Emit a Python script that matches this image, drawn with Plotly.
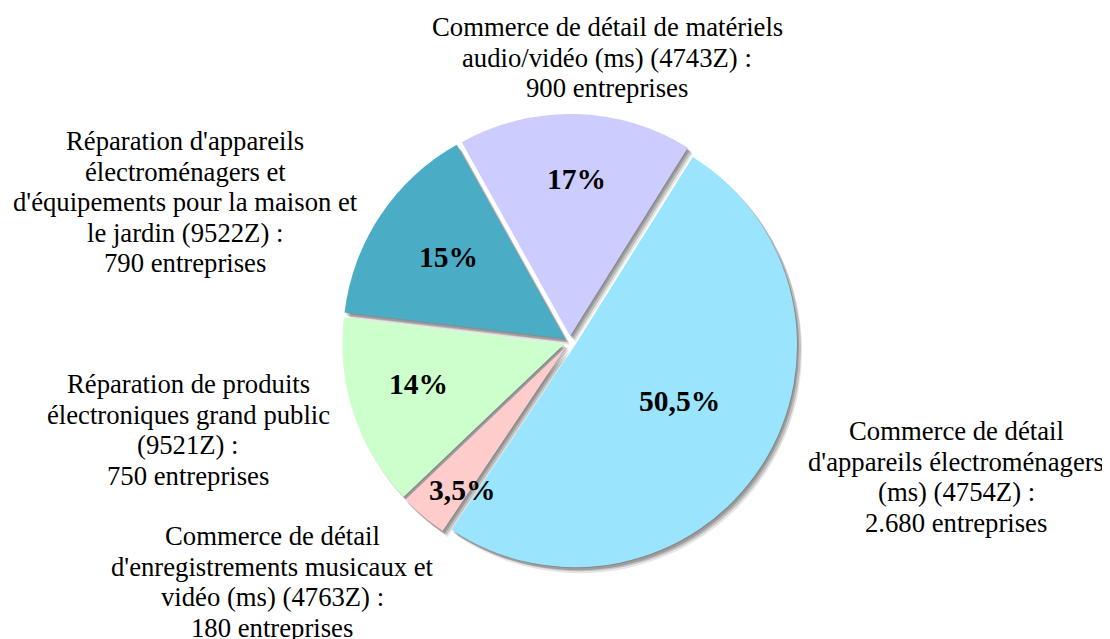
import plotly.graph_objects as go

# ---- data ----
categories = [
    "Commerce de détail d'appareils électroménagers (ms) (4754Z)",
    "Commerce de détail d'enregistrements musicaux et vidéo (ms) (4763Z)",
    "Réparation de produits électroniques grand public (9521Z)",
    "Réparation d'appareils électroménagers et d'équipements pour la maison et le jardin (9522Z)",
    "Commerce de détail de matériels audio/vidéo (ms) (4743Z)",
]
shares = [50.5, 3.5, 14, 15, 17]
enterprises = [2680, 180, 750, 790, 900]
pct_text = ["50,5%", "3,5%", "14%", "15%", "17%"]
label_lines = [
    ["Commerce de détail", "d'appareils électroménagers", "(ms) (4754Z) :", "2.680 entreprises"],
    ["Commerce de détail", "d'enregistrements musicaux et", "vidéo (ms) (4763Z) :", "180 entreprises"],
    ["Réparation de produits", "électroniques grand public", "(9521Z) :", "750 entreprises"],
    ["Réparation d'appareils", "électroménagers et", "d'équipements pour la maison et", "le jardin (9522Z) :", "790 entreprises"],
    ["Commerce de détail de matériels", "audio/vidéo (ms) (4743Z) :", "900 entreprises"],
]
colors = ["#9AE5FD", "#FFCCCC", "#CCFFCC", "#4BACC6", "#CCCCFF"]

# ---- layout / style ----
W, H = 1110, 639
OFF = 8                    # page body margin compensation (px)
CX, CY = 570, 342          # pie centre as seen on screen (px)
R = 222                    # pie radius (px)
PULL_PX = 6
pull = PULL_PX / R
half = R * (1 + pull)
FONT = "Liberation Serif, Times New Roman, serif"

def px(x):
    return (x - OFF) / W

def py(y):
    return 1 - (y - OFF) / H

def dom(dx=0, dy=0):
    return dict(
        x=[px(CX + dx - half), px(CX + dx + half)],
        y=[py(CY + dy + half), py(CY + dy - half)],
    )

fig = go.Figure()

# soft shadow layers
for (dx, dy, a) in [(5, 6, 0.10), (4, 4, 0.16), (2, 3, 0.18), (1, 1, 0.12)]:
    fig.add_trace(go.Pie(
        labels=categories, values=shares, sort=False, direction="clockwise",
        rotation=32, pull=pull, domain=dom(dx, dy),
        marker=dict(colors=[f"rgba(0,0,0,{a})"] * len(shares), line=dict(width=0)),
        textinfo="none", hoverinfo="skip", showlegend=False,
    ))

fig.add_trace(go.Pie(
    labels=categories, values=shares, sort=False, direction="clockwise",
    rotation=32, pull=pull, domain=dom(),
    marker=dict(colors=colors, line=dict(width=0)),
    textinfo="none", customdata=enterprises,
    hovertemplate="%{label}<br>%{customdata} entreprises<extra></extra>",
    showlegend=False,
))

annotations = []
# percentage labels (screen px positions)
pct_pos = [(679, 401), (462, 490), (418, 384), (448, 257), (576, 179)]
for t, (x, y) in zip(pct_text, pct_pos):
    annotations.append(dict(
        x=px(x), y=py(y), xref="paper", yref="paper", text=t, showarrow=False,
        xanchor="center", yanchor="middle",
        font=dict(family=FONT, size=29.5, color="black", weight="bold"),
    ))

# category labels, one annotation per line
label_pos = [(956, 431), (272, 536), (188, 384), (185, 141), (607, 27)]
LINE = 30.6
for lines, (x, y0) in zip(label_lines, label_pos):
    for k, ln in enumerate(lines):
        annotations.append(dict(
            x=px(x), y=py(y0 + k * LINE), xref="paper", yref="paper",
            text=ln, showarrow=False, xanchor="center", yanchor="middle",
            font=dict(family=FONT, size=26.7, color="black"),
        ))

fig.update_layout(
    width=W, height=H,
    margin=dict(l=0, r=0, t=0, b=0),
    paper_bgcolor="white", plot_bgcolor="white",
    annotations=annotations,
)

fig.write_html("out.html")
